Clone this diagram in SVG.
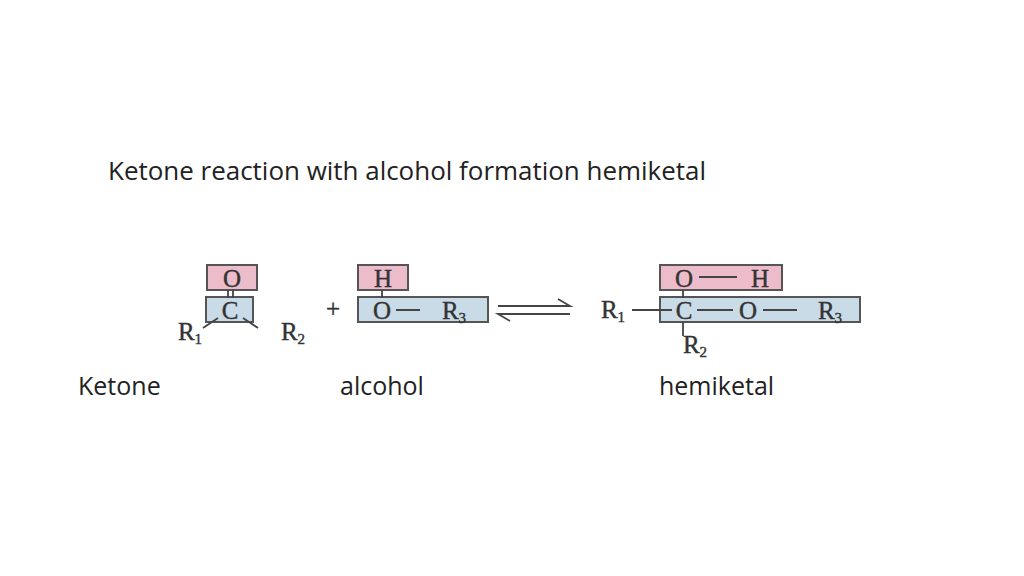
<svg xmlns="http://www.w3.org/2000/svg" width="1024" height="576" viewBox="0 0 1024 576">
<style>
.t{font-family:"Open Sans","Liberation Sans",sans-serif;font-size:25px;fill:#222}
.c{font-family:"Liberation Serif",serif;font-size:25px;fill:#333;stroke:#333;stroke-width:0.4;text-anchor:middle}
.s{font-size:15px}
.p{fill:#ecbccb;stroke:#555;stroke-width:2}
.b{fill:#c9dbe6;stroke:#555;stroke-width:2}
.l{stroke:#444;stroke-width:1.8;fill:none}
</style>
<rect width="1024" height="576" fill="#fff"/>
<text class="t" x="108" y="180" textLength="598" lengthAdjust="spacingAndGlyphs">Ketone reaction with alcohol formation hemiketal</text>
<g id="ketone">
<rect class="p" x="207" y="265" width="50" height="25"/>
<rect class="b" x="206" y="297" width="47" height="25"/>
<text class="c" x="232" y="287">O</text>
<text class="c" x="230" y="319">C</text>
<path class="l" d="M228 290v8M233 290v8M218 318l-15 10M243 318l15 10"/>
<text class="c" x="190" y="340">R<tspan class="s" dy="4">1</tspan></text>
<text class="c" x="293" y="340">R<tspan class="s" dy="4">2</tspan></text>
</g>
<text class="c" x="333" y="317">+</text>
<g id="alcohol">
<rect class="p" x="358" y="265" width="50" height="25"/>
<rect class="b" x="358" y="297" width="130" height="25"/>
<text class="c" x="383" y="287">H</text>
<text class="c" x="382" y="319">O</text>
<path class="l" d="M382 290v8M396 310h24"/>
<text class="c" x="454" y="319">R<tspan class="s" dy="4">3</tspan></text>
</g>
<g id="connectors">
<path class="l" d="M498 306h72l-12 -7M570 314h-72l12 7"/>
</g>
<g id="hemiketal">
<rect class="p" x="660" y="265" width="122" height="25"/>
<rect class="b" x="660" y="297" width="200" height="25"/>
<text class="c" x="684" y="287">O</text>
<path class="l" d="M699 277h38"/>
<text class="c" x="760" y="287">H</text>
<text class="c" x="613" y="318">R<tspan class="s" dy="4">1</tspan></text>
<path class="l" d="M632 310h40M683 290v8M683 322v14M697 310h36M763 310h34"/>
<text class="c" x="684" y="319">C</text>
<text class="c" x="748" y="319">O</text>
<text class="c" x="830" y="319">R<tspan class="s" dy="4">3</tspan></text>
<text class="c" x="695" y="353">R<tspan class="s" dy="4">2</tspan></text>
</g>
<text class="t" x="78" y="395">Ketone</text>
<text class="t" x="340" y="395">alcohol</text>
<text class="t" x="659" y="395">hemiketal</text>
</svg>
